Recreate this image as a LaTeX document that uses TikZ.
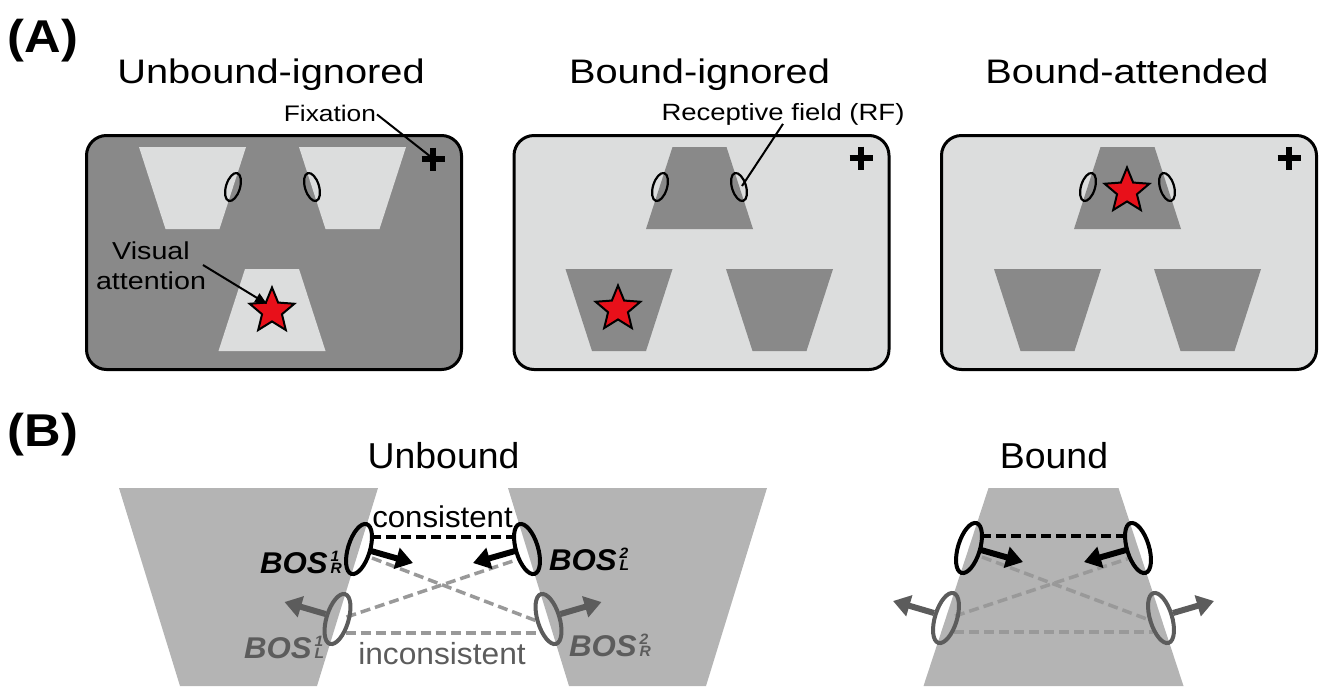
\documentclass[tikz,border=0pt]{standalone}
\usepackage{fontspec}
\setmainfont{Liberation Sans}
\newfontfamily\fA[FakeStretch=1.17]{Liberation Sans}
\newfontfamily\fL[FakeStretch=1.1]{Liberation Sans}
\newfontfamily\fB[FakeStretch=1.04]{Liberation Sans}
\usetikzlibrary{shapes.geometric,arrows.meta,calc}
\definecolor{darkbg}{HTML}{898989}
\definecolor{lightbg}{HTML}{DCDDDD}
\definecolor{trapB}{HTML}{B4B4B4}
\definecolor{grayline}{HTML}{999999}
\definecolor{graydark}{HTML}{5C5C5C}
\definecolor{starred}{HTML}{E8101A}
\newcommand{\fsz}[1]{\fontsize{#1pt}{#1pt}\selectfont}
\newcommand{\boslab}[2]{\textbf{\textit{BOS}}\kern3pt\rlap{\raisebox{12pt}{\fsz{15}\textbf{\textit{#1}}}}{\fsz{15}\textbf{\textit{#2}}}}
% trapezoid with wide top: centre x, top y, colour
\newcommand{\trapWide}[3]{\fill[#3] (#1-53.5,#2) -- (#1+53.5,#2) -- (#1+27,#2+82) -- (#1-27,#2+82) -- cycle;}
% trapezoid with narrow top
\newcommand{\trapNarrow}[3]{\fill[#3] (#1-27,#2) -- (#1+27,#2) -- (#1+53.5,#2+82) -- (#1-53.5,#2+82) -- cycle;}
\begin{document}
\begin{tikzpicture}[x=1pt,y=-1pt,
  panel/.style={draw=black, line width=3pt, rounded corners=20pt, minimum width=375pt, minimum height=234pt, inner sep=0pt, anchor=north west},
  rfA/.style={ellipse, draw=black, line width=2.2pt, minimum width=14pt, minimum height=29pt, inner sep=0pt},
  rfB/.style={ellipse, line width=4pt, minimum width=22pt, minimum height=52pt, inner sep=0pt},
  starnode/.style={star, star points=5, star point ratio=2.25, minimum size=47pt, inner sep=0pt, fill=starred, draw=black, line width=2pt},
  crossline/.style={line width=5.5pt},
  txt/.style={inner sep=0pt, outer sep=0pt},
  titleA/.style={txt, font=\fA\fsz{34}, anchor=base},
  titleB/.style={txt, font=\fB\fsz{36}, anchor=base},
  annot/.style={txt, font=\fA\fsz{22.5}},
  panellabel/.style={txt, font=\fL\bfseries\fsz{46}, anchor=base west},
  boslabel/.style={txt, font=\fB\fsz{30}, anchor=base west},
  pointer/.style={line width=2pt},
  bigarrow/.style={line width=6pt, -{Triangle[length=17pt,width=21pt]}},
  blackdash/.style={line width=3.5pt, dash pattern=on 10pt off 5pt, black},
  graydash/.style={line width=3.5pt, dash pattern=on 10pt off 5pt, grayline}
]
\useasboundingbox (0,0) rectangle (1321,686);

% ---------------- Panel A ----------------
\node[panellabel] (labA) at (8,52) {(A)};

\node[titleA] (tA1) at (271,83) {Unbound-ignored};
\node[titleA] (tA2) at (699.5,83) {Bound-ignored};
\node[titleA] (tA3) at (1127,83) {Bound-attended};

\node[panel, fill=darkbg] (box1) at (85,134) {};
\node[panel, fill=lightbg] (box2) at (512.5,134) {};
\node[panel, fill=lightbg] (box3) at (940,134) {};

% trapezoids
\trapWide{192.5}{147}{lightbg}
\trapWide{352.5}{147}{lightbg}
\trapNarrow{272}{269}{lightbg}

\trapNarrow{699.5}{147}{darkbg}
\trapWide{619}{269}{darkbg}
\trapWide{779.5}{269}{darkbg}

\trapNarrow{1127.5}{147}{darkbg}
\trapWide{1047.5}{269}{darkbg}
\trapWide{1207.5}{269}{darkbg}

% receptive fields
\node[rfA, rotate=-17] (a1l) at (233,187) {};
\node[rfA, rotate=17]  (a1r) at (312,187) {};
\node[rfA, rotate=-17] (a2l) at (660,187) {};
\node[rfA, rotate=17]  (a2r) at (739,187) {};
\node[rfA, rotate=-17] (a3l) at (1088,187) {};
\node[rfA, rotate=17]  (a3r) at (1167,187) {};

% stars
\node[starnode] (st1) at (272,311) {};
\node[starnode] (st2) at (618,309) {};
\node[starnode] (st3) at (1127,191) {};

% fixation crosses
\coordinate (fx1) at (433,159);
\coordinate (fx2) at (861,158);
\coordinate (fx3) at (1289,158);
\foreach \f in {fx1,fx2,fx3}{
  \draw[crossline] ($(\f)+(-11.5,0)$) -- ($(\f)+(11.5,0)$);
  \draw[crossline] ($(\f)+(0,-11.5)$) -- ($(\f)+(0,11.5)$);
}

% annotations
\node[annot, anchor=base east] (fix) at (376,121.5) {Fixation};
\draw[pointer] (fix.east) ++(1,1) -- ($(fx1)+(-2,-2)$);

\node[txt, font=\fA\fsz{23.5}, anchor=base] (rf) at (783,120) {Receptive field (RF)};
\draw[pointer] ($(rf.south)+(0,-1)$) -- ($(a2r)+(3,-1)$);

\node[txt, font=\fA\fontsize{24.5pt}{30pt}\selectfont, align=center, anchor=north] (va) at (151,242) {Visual\\attention};
\draw[pointer, -{Triangle[length=12pt,width=10pt]}] ($(va.north east)+(-3,23)$) -- ($(st1)+(-5,-7)$);

% ---------------- Panel B ----------------
\node[panellabel] (labB) at (8,446) {(B)};
\node[titleB] (tB1) at (443.5,468) {Unbound};
\node[titleB] (tB2) at (1054,468) {Bound};

% trapezoids
\fill[trapB] (119,488) -- (378,488) -- (317,686) -- (180,686) -- cycle;
\fill[trapB] (508,488) -- (767,488) -- (706,686) -- (569,686) -- cycle;
\fill[trapB] (988.5,488) -- (1118.5,488) -- (1183.5,686) -- (923.5,686) -- cycle;

% ellipse positions (coordinates first, for connectors)
\coordinate (cb1) at (359,549);
\coordinate (cb2) at (527,549);
\coordinate (cg1) at (337.5,619);
\coordinate (cg2) at (548.5,619);
\coordinate (cb3) at (969,548);
\coordinate (cb4) at (1138,548);
\coordinate (cg3) at (946,618);
\coordinate (cg4) at (1161,618);

% dashed connections (Unbound)
\draw[graydash] ($(cb1)+(13,9)$) -- ($(cg2)+(-9,3)$);
\draw[graydash] ($(cg1)+(9,-2)$) -- ($(cb2)+(-8,10)$);
\draw[graydash] ($(cg1)+(8,14)$) -- ($(cg2)+(-8,14)$);
\draw[blackdash] ($(cb1)+(12,-12)$) -- ($(cb2)+(-12,-12)$);
% dashed connections (Bound)
\draw[graydash] ($(cb3)+(13,9)$) -- ($(cg4)+(-9,3)$);
\draw[graydash] ($(cg3)+(9,-2)$) -- ($(cb4)+(-8,10)$);
\draw[graydash] ($(cg3)+(8,14)$) -- ($(cg4)+(-8,14)$);
\draw[blackdash] ($(cb3)+(12,-12)$) -- ($(cb4)+(-12,-12)$);

% ellipses
\node[rfB, draw=black, rotate=-17] (b1) at (cb1) {};
\node[rfB, draw=black, rotate=17]  (b2) at (cb2) {};
\node[rfB, draw=graydark, rotate=-17] (g1) at (cg1) {};
\node[rfB, draw=graydark, rotate=17]  (g2) at (cg2) {};
\node[rfB, draw=black, rotate=-17] (b3) at (cb3) {};
\node[rfB, draw=black, rotate=17]  (b4) at (cb4) {};
\node[rfB, draw=graydark, rotate=-17] (g3) at (cg3) {};
\node[rfB, draw=graydark, rotate=17]  (g4) at (cg4) {};

% BOS arrows
\foreach \b in {b1,b3}{\draw[bigarrow, black] ($(\b)+(12,2)$) -- ($(\b)+(54,14)$);}
\foreach \b in {b2,b4}{\draw[bigarrow, black] ($(\b)+(-12,2)$) -- ($(\b)+(-54,14)$);}
\foreach \g in {g1,g3}{\draw[bigarrow, graydark] ($(\g)+(-12,-5)$) -- ($(\g)+(-53,-17)$);}
\foreach \g in {g2,g4}{\draw[bigarrow, graydark] ($(\g)+(12,-5)$) -- ($(\g)+(53,-17)$);}

% labels
\node[txt, font=\fB\fsz{30}, anchor=base] (cons) at (442.5,527) {consistent};
\node[txt, font=\fB\fsz{30.5}, anchor=base, text=graydark] (incons) at (442,664) {inconsistent};

\node[boslabel] (lr1) at (260,573) {\boslab{1}{R}};
\node[boslabel, text=graydark] (ll1) at (244,658) {\boslab{1}{L}};
\node[boslabel] (ll2) at (549,570) {\boslab{2}{L}};
\node[boslabel, text=graydark] (lr2) at (569,656) {\boslab{2}{R}};
\end{tikzpicture}
\end{document}
